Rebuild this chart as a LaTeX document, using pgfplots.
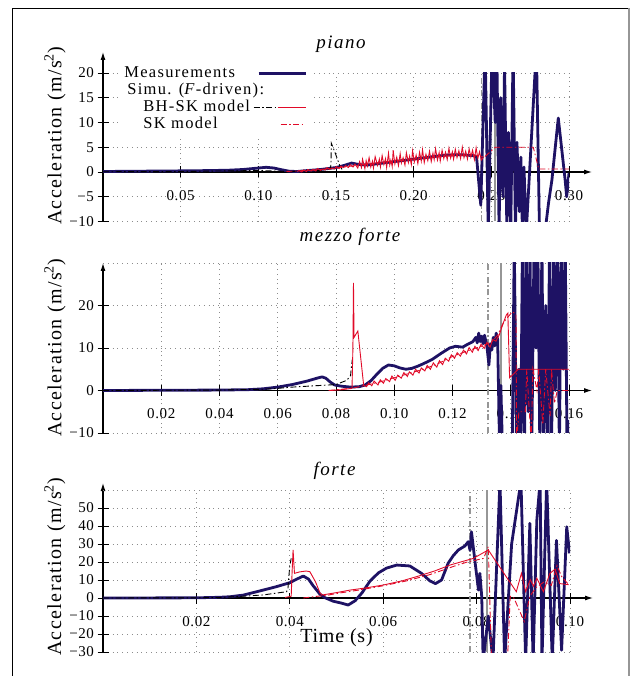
\documentclass[border=0pt]{standalone}
\usepackage{fontspec}
\setmainfont{Liberation Serif}[LetterSpace=4]
\usepackage{pgfplots}
\pgfplotsset{compat=1.18}
\usetikzlibrary{arrows.meta}
\definecolor{navy}{RGB}{30,18,100}
\definecolor{simred}{RGB}{225,10,40}
\definecolor{grayline}{RGB}{150,150,150}
\tikzset{dashdot/.style={dash pattern=on 6pt off 2.5pt on 1.5pt off 2.5pt}}
\pgfplotsset{
  panel/.style={
    scale only axis,
    axis x line=middle, axis y line=left,
    axis line style={line width=1.1pt, black},
    x axis line style={-{Latex[length=8pt,width=5pt]}, shorten >=-23pt},
    tick align=center, major tick length=11pt,
    tick style={black, line width=0.9pt},
    grid=major,
    grid style={black!45, line width=0.8pt, dash pattern=on 0.8pt off 4pt},
    hide obscured x ticks=false, hide obscured y ticks=false,
    ticklabel style={font=\fontsize{15}{18}\selectfont},
    xticklabel style={yshift=-9pt},
    ylabel={Acceleration (m/s\textsuperscript{2})},
    ylabel style={font=\fontsize{20}{22}\selectfont\addfontfeatures{LetterSpace=7}, anchor=center},
    title style={font=\fontsize{19}{22}\selectfont\itshape\addfontfeatures{LetterSpace=8}, anchor=center},
    clip=true,
  },
  navyline/.style={navy, line width=2.8pt, line join=round},
  redline/.style={simred, line width=0.9pt},
  reddd/.style={simred, line width=0.9pt, dashdot},
  blackdd/.style={black, line width=0.9pt, dashdot},
  graydd/.style={grayline, line width=1.6pt, dashdot},
  graysolid/.style={grayline, line width=1.6pt},
}
\begin{document}
\begin{tikzpicture}
\path[use as bounding box] (0pt,0pt) rectangle (635pt,676pt);
\draw[black, line width=0.8pt] (12pt,-20pt) -- (12pt,668pt) -- (629pt,668pt);
\draw[grayline, line width=2.2pt] (629pt,668pt) -- (629pt,-20pt);

% ---------------- piano ----------------
\begin{axis}[panel,
  at={(103pt,454.5pt)}, anchor=south west,
  width=466pt, height=148.5pt,
  xmin=0, xmax=0.30, ymin=-10, ymax=20,
  y axis line style={-{Latex[length=8pt,width=5pt]}, shorten >=-21pt},
  xtick={0.05,0.10,0.15,0.20,0.25,0.30},
  xticklabels={0.05,0.10,0.15,0.20,0.25,0.30},
  ytick={-10,-5,0,5,10,15,20},
  yticklabels={−10,−5,0,5,10,15,20},
  title={piano},
  title style={at={(axis description cs:0.5,1)}, yshift=23pt, xshift=5pt},
  ylabel style={at={(axis description cs:-0.103,0.576)}},
  legend style={at={(axis description cs:0.036,1.07)}, anchor=north west,
    draw=none, fill=white, inner xsep=4pt, inner ysep=3pt, outer sep=0pt,
    font=\fontsize{16.5}{19}\selectfont\addfontfeatures{LetterSpace=8}, row sep=1pt, column sep=3pt,
    nodes={inner sep=0.5pt, text height=11pt, text depth=4pt}},
  legend cell align=left, legend plot pos=right,
]
\addlegendimage{legend image code/.code={\path[draw=none,fill=none,use as bounding box] (0pt,-2pt) rectangle (52pt,2pt); \draw[navy,line width=2.8pt,solid] (5pt,0pt) -- (52pt,0pt);}}
\addlegendentry{Measurements}
\addlegendimage{legend image code/.code={\path[draw=none,fill=none,use as bounding box] (0pt,-2pt) rectangle (52pt,2pt);}}
\addlegendentry{\rlap{\hspace*{3pt}Simu. (\textit{F}-driven):}}
\addlegendimage{legend image code/.code={\path[draw=none,fill=none,use as bounding box] (0pt,-2pt) rectangle (52pt,2pt); \draw[black,line width=0.9pt,dashdot] (0pt,0pt) -- (24pt,0pt); \draw[simred,line width=1pt,solid] (24pt,0pt) -- (52pt,0pt);}}
\addlegendentry{\hspace*{19pt}BH-SK model}
\addlegendimage{legend image code/.code={\path[draw=none,fill=none,use as bounding box] (0pt,-2pt) rectangle (52pt,2pt); \draw[simred,line width=1pt,dashdot] (27pt,0pt) -- (52pt,0pt);}}
\addlegendentry{\hspace*{19pt}SK model}

\addplot[graydd, forget plot] coordinates {(0.2437,-10)(0.2437,20)};
\addplot[graysolid, forget plot] coordinates {(0.2524,-10)(0.2524,20)};
\addplot[navyline, forget plot] coordinates {
(0,0.1)(0.02,0.15)(0.04,0.2)(0.06,0.25)(0.08,0.35)(0.09,0.5)(0.10,0.8)(0.105,0.95)(0.11,0.8)(0.115,0.45)(0.12,0.15)(0.125,0.1)(0.13,0.25)(0.14,0.5)(0.145,0.7)(0.15,0.9)(0.155,1.3)(0.16,1.8)(0.165,1.5)(0.17,1.4)(0.18,1.8)(0.19,2.2)(0.20,2.6)(0.21,3.0)(0.22,3.4)(0.23,3.5)(0.2385,3.3)(0.2405,3.0)(0.2432,-6.7)(0.2460,25)(0.2480,-12)(0.2505,25)(0.2525,10)(0.2535,25)(0.2550,-12)(0.2560,15)(0.2575,-5)(0.2585,22)(0.2600,-12)(0.2610,8)(0.2625,-12)(0.2640,25)(0.2655,-12)(0.2665,6)(0.2680,-8)(0.2690,3)(0.2700,-12)(0.2710,1)(0.2725,-12)(0.2790,25)(0.2810,-12)(0.2846,-12)(0.2868,-6.3)(0.2890,-1.6)(0.2931,10.9)(0.2975,-1.6)(0.2985,-5)(0.3000,-0.2)};
\addplot[blackdd, forget plot] coordinates {
(0,0.05)(0.05,0.1)(0.10,0.3)(0.12,0.1)(0.14,0.3)(0.1465,0.8)(0.1468,2.0)(0.147,5.8)(0.1493,4.0)(0.1525,1.2)(0.154,0.5)};
\addplot[reddd, forget plot] coordinates {
(0.118,0.1)(0.13,0.3)(0.14,0.5)(0.15,0.8)(0.16,1.2)(0.17,1.6)(0.18,2.0)(0.19,2.3)(0.20,2.6)(0.21,2.9)(0.22,3.2)(0.23,3.4)(0.24,3.4)(0.2455,3.0)(0.2525,5.0)(0.2770,5.0)(0.2805,0.6)(0.300,0.6)};
\addplot[redline, forget plot] coordinates {
(0.125,0.1)(0.1262,0.3)(0.128,0.0)(0.1291,0.4)(0.131,0.1)(0.1318,0.5)(0.134,0.2)(0.1352,0.5)(0.137,0.2)(0.1381,0.7)(0.1402,0.3)(0.1411,0.6)(0.143,0.4)(0.1442,0.9)(0.146,0.5)(0.1471,0.8)(0.149,0.6)(0.1502,1.1)(0.152,0.7)(0.1531,1.2)(0.155,0.9)(0.1562,1.3)(0.158,0.9)(0.1591,1.5)(0.161,1.0)(0.1622,1.6)(0.164,0.8)(0.1652,2.1)(0.1664,0.9)(0.1671,2.6)(0.1686,0.7)(0.1694,2.3)(0.1702,1.2)(0.1713,2.9)(0.1724,1.0)(0.1735,2.2)(0.1741,0.8)(0.1752,3.1)(0.1768,1.3)(0.1779,2.6)(0.1786,1.0)(0.1797,3.3)(0.1808,1.5)(0.1819,2.7)(0.1826,0.9)(0.1838,3.8)(0.1846,1.4)(0.1853,2.4)(0.1862,1.1)(0.1868,4.4)(0.1879,1.6)(0.1891,3.0)(0.1902,1.3)(0.1913,3.7)(0.1921,1.8)(0.1932,2.9)(0.1944,1.4)(0.1953,3.9)(0.1966,1.9)(0.1974,3.2)(0.1985,1.5)(0.1993,4.3)(0.2004,2.0)(0.2016,3.4)(0.2027,1.7)(0.2038,4.0)(0.2049,2.2)(0.2057,4.5)(0.2068,1.9)(0.2079,3.6)(0.2091,2.3)(0.2102,4.2)(0.2113,2.1)(0.2124,3.8)(0.2132,2.5)(0.2141,4.7)(0.2153,2.4)(0.2164,3.9)(0.2171,2.2)(0.2183,4.4)(0.2194,2.7)(0.2205,4.0)(0.2216,2.5)(0.2227,4.8)(0.2238,2.8)(0.2249,4.1)(0.2257,2.6)(0.2268,4.6)(0.2279,2.9)(0.2291,4.3)(0.2302,2.7)(0.2313,5.0)(0.2324,2.9)(0.2335,4.2)(0.2346,2.6)(0.2357,4.7)(0.2368,3.0)(0.2379,4.4)(0.2391,2.5)(0.2402,4.9)(0.2413,2.8)(0.2424,4.1)(0.2435,2.4)(0.245,3.0)};
\end{axis}

% ---------------- mezzo forte ----------------
\begin{axis}[panel,
  at={(103pt,243pt)}, anchor=south west,
  width=466pt, height=170pt,
  xmin=0, xmax=0.16, ymin=-10, ymax=30,
  y axis line style={-{Latex[length=8pt,width=5pt]}},
  xtick={0.02,0.04,0.06,0.08,0.10,0.12,0.14,0.16},
  xticklabels={0.02,0.04,0.06,0.08,0.10,0.12,0.14,0.16},
  ytick={-10,0,10,20},
  yticklabels={−10,0,10,20},
  extra y ticks={30}, extra y tick labels={},
  extra y tick style={major tick length=0pt},
  title={mezzo forte},
  title style={at={(axis description cs:0.5,1)}, yshift=20pt, xshift=14pt},
  ylabel style={at={(axis description cs:-0.103,0.5)}},
]
\addplot[graydd] coordinates {(0.1322,-10)(0.1322,30)};
\addplot[graysolid] coordinates {(0.1367,-10)(0.1367,30)};
\addplot[navyline] coordinates {
(0,0)(0.02,0.05)(0.04,0.1)(0.05,0.2)(0.055,0.4)(0.06,0.8)(0.065,1.4)(0.07,2.2)(0.0735,2.9)(0.0752,3.2)(0.0765,2.9)(0.078,2.0)(0.0795,1.3)(0.082,1.0)(0.085,0.8)(0.088,0.9)(0.090,1.3)(0.092,2.3)(0.094,3.8)(0.096,5.2)(0.098,6.0)(0.100,5.8)(0.102,5.3)(0.104,5.0)(0.106,5.2)(0.108,5.7)(0.110,6.3)(0.113,7.3)(0.116,8.7)(0.119,10.0)(0.121,10.4)(0.1235,10.2)(0.125,10.8)(0.127,11.5)(0.128,12.5)(0.1285,11.2)(0.129,13.5)(0.1295,11.5)(0.130,12.8)(0.1305,11.0)(0.131,13.0)(0.1318,10.5)(0.1325,6.0)(0.133,11.0)(0.1335,9.5)(0.134,12.5)(0.1345,10.5)(0.135,13.5)(0.1355,12)(0.1362,-15)(0.1366,1.2)(0.1372,-15)(0.1405,-15)(0.1412,35)(0.1420,-15)(0.1428,5)(0.1434,-15)(0.1440,35)(0.1447,-15)(0.1453,35)(0.1460,-5)(0.1466,35)(0.1472,-15)(0.1480,35)(0.1487,10)(0.1493,35)(0.1500,-15)(0.1507,35)(0.1513,-15)(0.1520,20)(0.1527,-15)(0.1533,35)(0.1540,-15)(0.1547,35)(0.1553,0)(0.1560,35)(0.1567,-15)(0.1573,35)(0.1580,5)(0.1587,35)(0.1593,-12)(0.1600,-7)};
\addplot[blackdd] coordinates {
(0,0)(0.04,0.1)(0.055,0.3)(0.06,0.5)(0.065,0.8)(0.07,1.0)(0.075,1.2)(0.08,1.4)(0.0837,2.4)(0.0850,3.5)(0.0852,5)(0.0856,7.3)};
\addplot[reddd] coordinates {
(0.0775,0)(0.082,0.3)(0.086,0.6)(0.090,1.2)(0.095,2.0)(0.100,3.0)(0.105,4.0)(0.110,5.0)(0.115,6.3)(0.120,8.0)(0.125,9.3)(0.130,10.4)(0.1335,11.5)(0.1355,13)(0.1375,16)(0.1405,18.5)(0.1418,18)(0.1420,-12)(0.1428,-5)(0.1450,-5)(0.1455,5)(0.1470,-12)(0.1476,5)(0.1490,0)(0.1496,5)(0.1510,-8)(0.1520,5)(0.1535,-6)(0.1540,5)(0.1550,-3)(0.1560,0)(0.160,0)};
\addplot[redline] coordinates {
(0.078,0)(0.082,0.2)(0.0855,0.5)(0.0858,10)(0.0860,25.3)(0.0862,12.5)(0.0875,14.0)(0.0895,1.2)(0.0905,0.9)(0.0912,1.8)(0.0923,1.1)(0.0931,2.2)(0.0944,1.3)(0.0952,2.5)(0.0963,1.7)(0.0971,2.8)(0.0984,2.1)(0.0992,3.4)(0.1003,2.4)(0.1012,3.6)(0.1024,2.9)(0.1033,4.2)(0.1045,3.3)(0.1052,4.4)(0.1064,3.6)(0.1073,5.0)(0.1085,4.1)(0.1093,5.3)(0.1105,4.6)(0.1113,5.9)(0.1124,5.0)(0.1134,6.5)(0.1146,5.5)(0.1155,7.0)(0.1166,6.1)(0.1175,7.6)(0.1187,6.9)(0.1196,8.4)(0.1207,7.6)(0.1216,8.9)(0.1227,8.1)(0.1238,9.5)(0.1248,8.6)(0.1257,10.1)(0.1268,9.0)(0.1277,10.4)(0.1288,9.4)(0.1298,10.9)(0.1309,9.9)(0.1318,11.3)(0.1329,10.2)(0.1338,12.0)(0.1349,11.6)(0.1360,13.0)(0.1375,16.0)(0.1385,17.8)(0.1390,18.2)(0.1396,3.0)(0.1426,5.0)(0.160,5.0)};
\end{axis}

% ---------------- forte ----------------
\begin{axis}[panel,
  at={(103pt,24pt)}, anchor=south west,
  width=467pt, height=162pt,
  xmin=0, xmax=0.10, ymin=-30, ymax=60,
  y axis line style={-{Latex[length=8pt,width=5pt]}, shorten >=-7pt},
  xtick={0.02,0.04,0.06,0.08,0.10},
  xticklabels={0.02,0.04,0.06,0.08,0.10},
  ytick={-30,-20,-10,0,10,20,30,40,50},
  yticklabels={−30,−20,−10,0,10,20,30,40,50},
  extra y ticks={60}, extra y tick labels={},
  extra y tick style={major tick length=0pt},
  title={forte},
  title style={at={(axis description cs:0.5,1)}, yshift=13pt, xshift=-2pt},
  ylabel style={at={(axis description cs:-0.103,0.525)}},
  xlabel={Time (s)},
  xlabel style={at={(axis description cs:0.5,0.086)}, anchor=center, font=\fontsize{20}{22}\selectfont},
]
\addplot[graydd] coordinates {(0.0786,-30)(0.0786,60)};
\addplot[graysolid] coordinates {(0.0822,-30)(0.0822,60)};
\addplot[navyline] coordinates {
(0,0)(0.02,0.1)(0.025,0.4)(0.0272,0.7)(0.030,1.6)(0.0343,4.4)(0.037,6.2)(0.040,8.5)(0.0415,10.5)(0.0429,12.2)(0.0440,10.5)(0.0450,6.8)(0.0465,2.0)(0.0475,0.2)(0.0493,-1.8)(0.051,-2.8)(0.0525,-3.9)(0.054,-1.5)(0.0555,3)(0.0572,9.5)(0.059,14)(0.0607,16.6)(0.0629,18.3)(0.0657,17.8)(0.0682,13.7)(0.0700,9.5)(0.0712,8.0)(0.0725,10)(0.0739,19.3)(0.0750,23.5)(0.0761,26.7)(0.0775,28.9)(0.0782,31.3)(0.0786,26.5)(0.0789,36.8)(0.0797,19.3)(0.0804,4.4)(0.0807,13.7)(0.0811,0.7)(0.0814,-35)(0.0825,-10)(0.0835,-35)(0.0850,65)(0.0860,-35)(0.0875,30)(0.0895,65)(0.0905,-35)(0.0914,41.5)(0.0921,-35)(0.0929,43.3)(0.0936,65)(0.0940,-35)(0.0950,65)(0.0962,-35)(0.0971,32)(0.0982,-29)(0.0993,39.6)(0.0999,24.8)};
\addplot[blackdd] coordinates {
(0,0)(0.02,0.1)(0.025,0.3)(0.030,1.0)(0.0343,1.7)(0.0393,3.5)(0.0396,5)(0.0398,12)(0.0400,18)(0.0403,22)};
\addplot[reddd] coordinates {
(0.0429,0)(0.046,1)(0.048,1.5)(0.050,2.5)(0.055,4.5)(0.060,6.8)(0.065,9.5)(0.070,13)(0.075,17.5)(0.078,20)(0.0815,22)(0.0825,28.5)(0.0832,-35)(0.0866,-35)(0.0872,1)(0.0880,0)(0.0890,-6)(0.0902,-13)(0.0914,1)(0.0928,6)(0.0945,9)(0.096,7)(0.0972,18)(0.0982,12)(0.0995,8)};
\addplot[redline] coordinates {
(0.039,0.3)(0.0403,1)(0.0405,15)(0.0407,26.7)(0.0410,13.7)(0.0421,14.5)(0.0435,15)(0.0443,14.6)(0.0455,9)(0.0465,2.6)(0.047,1.7)(0.050,3)(0.0529,4.4)(0.056,5.5)(0.060,7.2)(0.064,9.5)(0.0672,11.9)(0.071,15)(0.0743,18.3)(0.0793,22)(0.0825,26.7)(0.0885,3.5)(0.0896,13.7)(0.0905,3.5)(0.0915,10.2)(0.0922,6.5)(0.0929,11)(0.0943,3.5)(0.0957,13.7)(0.0968,16)(0.0978,8)(0.0997,7.4)};
\end{axis}
\end{tikzpicture}
\end{document}
